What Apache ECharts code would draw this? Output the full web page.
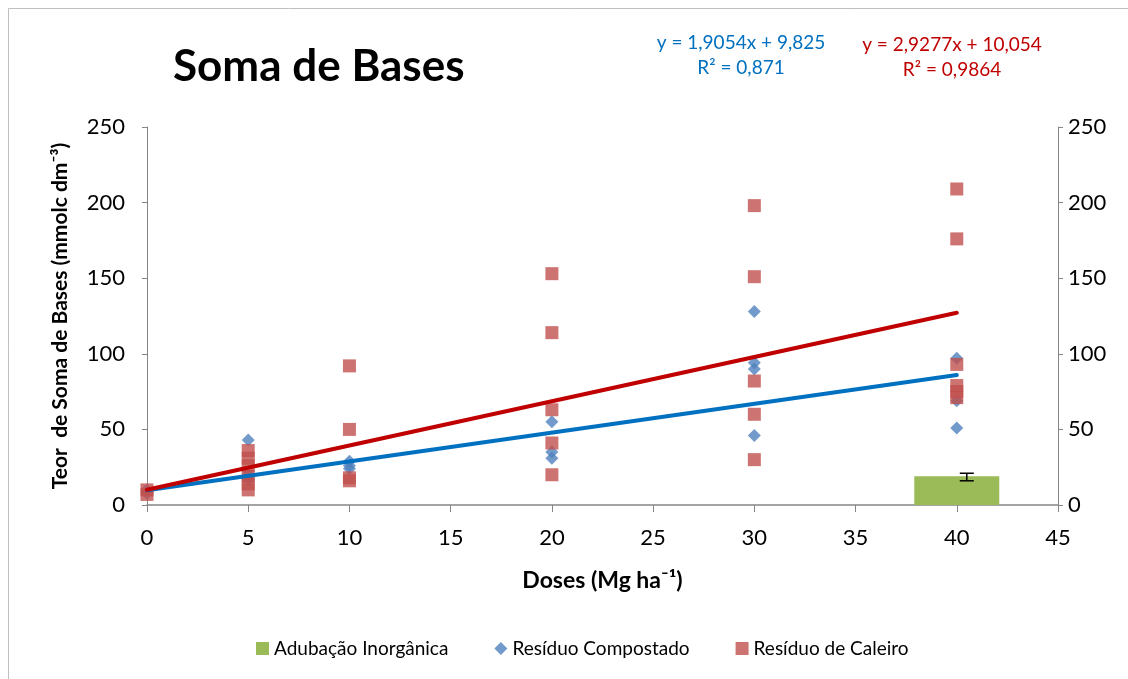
<!DOCTYPE html>
<html>
<head>
<meta charset="utf-8">
<script src="https://cdn.jsdelivr.net/npm/echarts@6/dist/echarts.min.js"></script>
<style>
  html, body { margin: 0; padding: 0; background: #fff; }
  #chart { width: 1128px; height: 679px; }
</style>
</head>
<body>
<div id="chart"></div>
<script>
// axis ticks
const xTicks = [0, 5, 10, 15, 20, 25, 30, 35, 40, 45]
const yTicks = [0, 50, 100, 150, 200, 250]

// Resíduo Compostado (blue diamonds) [dose, value]
const compostado = [
  [0, 10], [0, 8],
  [5, 43], [5, 20], [5, 17],
  [10, 29], [10, 26], [10, 24],
  [20, 55], [20, 35], [20, 31],
  [30, 128], [30, 94], [30, 90], [30, 46],
  [40, 97], [40, 69], [40, 51]
]

// Resíduo de Caleiro (red squares) [dose, value]
const caleiro = [
  [0, 10], [0, 7],
  [5, 36], [5, 31], [5, 26], [5, 19], [5, 14], [5, 10],
  [10, 92], [10, 50], [10, 18], [10, 16],
  [20, 153], [20, 114], [20, 63], [20, 41], [20, 20],
  [30, 198], [30, 151], [30, 82], [30, 60], [30, 30],
  [40, 209], [40, 176], [40, 93], [40, 79], [40, 75], [40, 71]
]

// Adubação Inorgânica bar with error bar [dose, value] / [dose, low, high]
const inorganica = [[40, 19]]
const inorganicaErr = [[40, 16, 21]]

// trend line ends, as drawn
const trendCompostado = [[0, 9.8], [40, 86.0]]
const trendCaleiro = [[0, 10.1], [40, 127.2]]

const eqCompostado = ['y = 1,9054x + 9,825', 'R² = 0,871']
const eqCaleiro = ['y = 2,9277x + 10,054', 'R² = 0,9864']

const font = 'Lato, "Open Sans", sans-serif'
const axisColor = '#868686'

const chart = echarts.init(document.getElementById('chart'))

const yAxisBase = {
  type: 'value',
  min: 0,
  max: 250,
  interval: 50,
  axisLine: { show: true, lineStyle: { color: axisColor, width: 1 } },
  axisTick: { show: true, length: 5, lineStyle: { color: axisColor } },
  splitLine: { show: false },
  axisLabel: { color: '#000', fontSize: 22, fontFamily: font, margin: 22 }
}

chart.setOption({
  animation: false,
  textStyle: { fontFamily: font },
  graphic: [
    {
      type: 'rect',
      shape: { x: 8.5, y: 8.5, width: 1140, height: 700 },
      style: { fill: 'none', stroke: '#bfbfbf', lineWidth: 1 }
    },
    {
      type: 'text', x: 173, y: 67,
      style: { text: 'Soma de Bases', font: 'bold 44px ' + font, fill: '#000', verticalAlign: 'middle' }
    },
    {
      type: 'text', x: 741, y: 55,
      style: { text: eqCompostado.join('\n'), font: '19px ' + font, fill: '#0070C0', align: 'center', verticalAlign: 'middle', lineHeight: 25 }
    },
    {
      type: 'text', x: 952, y: 57,
      style: { text: eqCaleiro.join('\n'), font: '19px ' + font, fill: '#C00000', align: 'center', verticalAlign: 'middle', lineHeight: 25 }
    }
  ],
  grid: { left: 147, right: 70, top: 127, bottom: 174 },
  legend: {
    top: 634,
    left: 251,
    itemGap: 46,
    itemWidth: 13,
    itemHeight: 13,
    textStyle: { fontSize: 19, color: '#000', fontFamily: font },
    data: [
      { name: 'Adubação Inorgânica', icon: 'rect' },
      { name: 'Resíduo Compostado', icon: 'diamond' },
      { name: 'Resíduo de Caleiro', icon: 'rect' }
    ]
  },
  xAxis: {
    type: 'value',
    min: 0,
    max: 45,
    interval: 5,
    name: 'Doses (Mg ha⁻¹)',
    nameLocation: 'middle',
    nameGap: 64,
    nameTextStyle: { fontSize: 23, fontWeight: 'bold', color: '#000', fontFamily: font },
    axisLine: { show: true, onZero: false, lineStyle: { color: axisColor, width: 1.5 } },
    axisTick: { show: true, length: 7, lineStyle: { color: axisColor } },
    splitLine: { show: false },
    axisLabel: { color: '#000', fontSize: 22, fontFamily: font, margin: 22 }
  },
  yAxis: [
    Object.assign({}, yAxisBase, {
      name: 'Teor  de Soma de Bases (mmolc dm⁻³)',
      nameLocation: 'middle',
      nameGap: 76,
      nameTextStyle: { fontSize: 21, fontWeight: 'bold', color: '#000', fontFamily: font }
    }),
    Object.assign({}, yAxisBase, { position: 'right', axisLabel: Object.assign({}, yAxisBase.axisLabel, { margin: 10 }) })
  ],
  series: [
    {
      name: 'Adubação Inorgânica',
      type: 'bar',
      data: inorganica,
      barWidth: 85,
      itemStyle: { color: '#9BBB59' },
      z: 1
    },
    {
      name: 'errbar',
      type: 'custom',
      data: inorganicaErr,
      z: 3,
      renderItem(params, api) {
        const top = api.coord([api.value(0), api.value(2)])
        const bot = api.coord([api.value(0), api.value(1)])
        const x = top[0] + 10
        const w = 7
        const st = { stroke: '#000', lineWidth: 1.5 }
        return {
          type: 'group',
          children: [
            { type: 'line', shape: { x1: x, y1: top[1], x2: x, y2: bot[1] }, style: st },
            { type: 'line', shape: { x1: x - w, y1: top[1], x2: x + w, y2: top[1] }, style: st },
            { type: 'line', shape: { x1: x - w, y1: bot[1], x2: x + w, y2: bot[1] }, style: st }
          ]
        }
      }
    },
    {
      name: 'Resíduo Compostado',
      type: 'scatter',
      data: compostado,
      symbol: 'diamond',
      symbolSize: 13,
      itemStyle: { color: '#4F81BD' },
      z: 4
    },
    {
      name: 'Resíduo de Caleiro',
      type: 'scatter',
      data: caleiro,
      symbol: 'rect',
      symbolSize: 13,
      itemStyle: { color: '#C0504D' },
      z: 5
    },
    {
      name: 'trendCompostado',
      type: 'line',
      data: trendCompostado,
      symbol: 'none',
      lineStyle: { color: '#0070C0', width: 4, cap: 'round' },
      z: 6
    },
    {
      name: 'trendCaleiro',
      type: 'line',
      data: trendCaleiro,
      symbol: 'none',
      lineStyle: { color: '#C00000', width: 4, cap: 'round' },
      z: 7
    }
  ]
})
</script>
</body>
</html>
